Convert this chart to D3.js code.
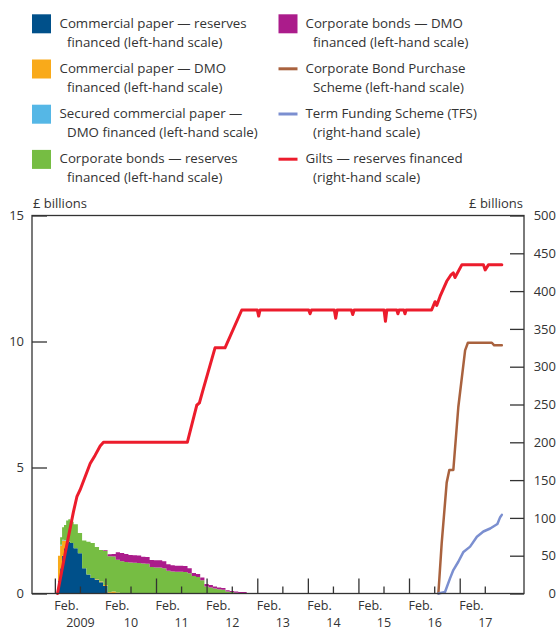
<!DOCTYPE html>
<html><head><meta charset="utf-8">
<script src="https://cdn.jsdelivr.net/npm/d3@7"></script>
<style>
html,body{margin:0;padding:0;background:#fff;}
svg{display:block;}
text{font-family:"Open Sans",sans-serif;fill:#333;}
</style></head><body>
<svg id="chart" width="557" height="631"></svg>
<script>
// ---------- DATA ----------
const stackDates = ["2009-01-15","2009-02-01","2009-02-15","2009-03-01","2009-03-15","2009-04-01","2009-04-15","2009-05-01","2009-06-01","2009-07-01","2009-08-01","2009-09-01","2009-10-01","2009-11-01","2009-12-01",
"2010-01-01","2010-02-01","2010-03-01","2010-04-01","2010-05-01","2010-06-01","2010-07-01","2010-08-01","2010-09-01","2010-10-01","2010-11-01","2010-12-01",
"2011-01-01","2011-02-01","2011-03-01","2011-04-01","2011-05-01","2011-06-01","2011-07-01","2011-08-01","2011-09-01","2011-10-01","2011-11-01","2011-12-01",
"2012-01-01","2012-02-01","2012-03-01","2012-04-01","2012-05-01","2012-06-01","2012-07-01","2012-08-01","2012-09-01","2012-10-01","2012-11-01"];
const cpReserves = [0,0.5,1.0,1.5,1.8,2.0,2.05,2.0,1.8,1.6,1.0,0.75,0.62,0.55,0.45,
0.3,0.03,0,0,0,0,0,0,0,0,0,0,
0,0,0,0,0,0,0,0,0,0,0,0,
0,0,0,0,0,0,0,0,0,0,0];
const cpDMO = [0,1.0,0.9,0.6,0.3,0.1,0,0,0,0,0,0,0,0.02,0.03,
0.04,0.03,0.08,0.04,0,0,0,0,0,0,0,0,
0,0,0,0,0,0,0,0,0,0,0,0,
0,0,0,0,0,0,0,0,0,0,0];
const securedCPDMO = [0,0,0.03,0.03,0.02,0,0,0,0,0,0,0,0,0,0,
0,0,0,0,0,0,0,0,0,0,0,0,
0,0,0,0,0,0,0,0,0,0,0,0,
0,0,0,0,0,0,0,0,0,0,0];
const cbReserves = [0,0,0.3,0.5,0.6,0.8,0.9,0.85,0.95,0.8,1.1,1.3,1.38,1.28,1.25,
1.35,1.42,1.39,1.3,1.28,1.25,1.23,1.22,1.21,1.19,1.18,1.05,
1.03,1.03,1.0,0.9,0.87,0.86,0.86,0.85,0.8,0.69,0.65,0.53,
0.28,0.24,0.2,0.17,0.15,0.08,0.06,0.03,0.02,0.01,0];
const cbDMO = [0,0,0,0,0,0,0,0,0,0,0,0,0,0,0,
0.03,0.08,0.1,0.3,0.33,0.32,0.3,0.3,0.3,0.27,0.27,0.28,
0.29,0.29,0.28,0.26,0.25,0.24,0.24,0.24,0.2,0.12,0.12,0.1,
0.1,0.1,0.08,0.07,0.07,0.05,0.04,0.05,0.04,0.05,0];

const giltDates = ["2009-01-20","2009-03-16","2009-05-15","2009-06-09","2009-07-02","2009-09-13","2009-10-19","2009-11-24","2009-12-18","2011-08-15","2011-10-22","2011-11-10","2011-12-09","2012-03-02","2012-05-13","2012-09-11",
"2013-01-01","2013-01-11","2013-01-21","2014-01-07","2014-01-17","2014-01-27","2014-07-11","2014-07-21","2014-07-31","2014-11-11","2014-11-21","2014-12-01",
"2015-07-05","2015-07-15","2015-07-25","2015-10-05","2015-10-13","2015-10-21","2015-11-25","2015-12-03","2015-12-11",
"2016-06-12","2016-07-07","2016-07-19","2016-08-12","2016-09-29","2016-10-28","2016-11-16","2016-11-28","2017-01-17","2017-06-21","2017-07-04","2017-07-28","2017-11-01"];
const giltValues = [0,53,108,128,137,172,183,195,200,200,249,252,271,325,325,375,
375,367,375,375,370,375,375,364,375,375,369,375,
375,360,375,375,370,375,375,370,375,
375,386,381,393,413,421,424,418,435,435,428,435,435];

const cbpsDates = ["2016-07-31","2016-08-24","2016-09-29","2016-10-18","2016-11-16","2016-12-22","2017-02-09","2017-03-01","2017-08-21","2017-09-07","2017-11-01"];
const cbpsValues = [0,2.0,4.4,4.9,4.9,7.4,9.65,9.95,9.95,9.85,9.85];

const tfsDates = ["2016-07-31","2016-09-17","2016-10-23","2016-11-16","2016-12-22","2017-01-28","2017-03-17","2017-05-05","2017-06-21","2017-08-09","2017-09-30","2017-10-20","2017-11-01"];
const tfsValues = [0,2,20,31,42,55,62,75,82,86,92,101,104];

const leftTicks = [0,5,10,15];
const rightTicks = [0,50,100,150,200,250,300,350,400,450,500];
const yearStarts = ["2009-01-01","2010-01-01","2011-01-01","2012-01-01","2013-01-01","2014-01-01","2015-01-01","2016-01-01","2017-01-01"];
const midYears = ["2009-07-01","2010-07-01","2011-07-01","2012-07-01","2013-07-01","2014-07-01","2015-07-01","2016-07-01","2017-07-01"];
const monthLabel = "Feb.";
const yearLabels = ["2009","10","11","12","13","14","15","16","17"];
const unitLabel = "£ billions";

const stackKeys = ["cpReserves","cpDMO","securedCPDMO","cbReserves","cbDMO"];
const legendLines1 = ["Commercial paper — reserves","Commercial paper — DMO","Secured commercial paper —","Corporate bonds — reserves","Corporate bonds — DMO","Corporate Bond Purchase","Term Funding Scheme (TFS)","Gilts — reserves financed"];
const legendLines2 = ["financed (left-hand scale)","financed (left-hand scale)","DMO financed (left-hand scale)","financed (left-hand scale)","financed (left-hand scale)","Scheme (left-hand scale)","(right-hand scale)","(right-hand scale)"];
const legendColors = ["#00508a","#f9aa1a","#55b7e6","#76bd43","#ab1c8b","#a9623e","#7b8fd0","#ec1c2c"];
const legendKinds = ["box","box","box","box","box","line","line","line"];

// ---------- CHART ----------
const parse = d3.utcParse("%Y-%m-%d");
const svg = d3.select("#chart");
const L = 32, R = 524, T = 215.5, B = 593.5;

const x = d3.scaleUtc().domain([Date.UTC(2008,6,20), Date.UTC(2018,3,10)]).range([L, R]);
const yL = d3.scaleLinear().domain([0,15]).range([B, T]);
const yR = d3.scaleLinear().domain([0,500]).range([B, T]);

const series = {cpReserves, cpDMO, securedCPDMO, cbReserves, cbDMO};
const table = stackDates.map((d,i) => {
  const row = {date: parse(d)};
  stackKeys.forEach(k => row[k] = series[k][i]);
  return row;
});
const stacked = d3.stack().keys(stackKeys)(table);
const area = d3.area().curve(d3.curveStep)
  .x(d => x(d.data.date)).y0(d => yL(d[0])).y1(d => yL(d[1]));
svg.append("g").selectAll("path").data(stacked).join("path")
  .attr("d", area).attr("fill", (d,i) => legendColors[i]);

// lines
function drawLine(dates, values, scale, color, w) {
  const pts = dates.map((d,i) => ({date: parse(d), v: values[i]}));
  svg.append("path").datum(pts)
    .attr("fill","none").attr("stroke",color).attr("stroke-width",w)
    .attr("stroke-linejoin","round").attr("stroke-linecap","round")
    .attr("d", d3.line().x(d => x(d.date)).y(d => scale(d.v)));
}
drawLine(giltDates, giltValues, yR, legendColors[7], 3);
drawLine(cbpsDates, cbpsValues, yL, legendColors[5], 2.5);
drawLine(tfsDates, tfsValues, yR, legendColors[6], 2.5);

// frame
svg.append("rect").attr("x",L).attr("y",T).attr("width",R-L).attr("height",B-T)
  .attr("fill","none").attr("stroke","#333").attr("stroke-width",1.3);

function styleAxis(g, size){
  g.selectAll(".domain").remove();
  g.selectAll(".tick line").attr("stroke","#333").attr("stroke-width",1.3);
  g.selectAll("text").attr("font-family","'Open Sans',sans-serif").attr("font-size",size).attr("fill","#333");
}

// left axis
const gl = svg.append("g").attr("transform",`translate(${L},0)`)
  .call(d3.axisLeft(yL).tickValues(leftTicks).tickSizeInner(-15).tickSizeOuter(0).tickPadding(8));
styleAxis(gl, 13);
// right axis
const gr = svg.append("g").attr("transform",`translate(${R},0)`)
  .call(d3.axisRight(yR).tickValues(rightTicks).tickSizeInner(-14).tickSizeOuter(0).tickPadding(6));
styleAxis(gr, 13);
gr.selectAll("text").attr("text-anchor","end").attr("x",32);

// bottom axes
const gx1 = svg.append("g").attr("transform",`translate(0,${B})`)
  .call(d3.axisBottom(x).tickValues(yearStarts.map(parse)).tickSizeInner(-15).tickSizeOuter(0).tickPadding(7.8).tickFormat(() => monthLabel));
styleAxis(gx1, 12.5);
gx1.selectAll("text").attr("text-anchor","start").attr("dx",-1);
const gx2 = svg.append("g").attr("transform",`translate(0,${B})`)
  .call(d3.axisBottom(x).tickValues(midYears.map(parse)).tickSizeInner(-7).tickSizeOuter(0).tickPadding(24.9).tickFormat((d,i) => yearLabels[i]));
styleAxis(gx2, 12.5);

// unit labels
svg.append("text").attr("x",33).attr("y",207.5).attr("font-size",13).text(unitLabel);
svg.append("text").attr("x",523).attr("y",207.5).attr("font-size",13).attr("text-anchor","end").text(unitLabel);

// legend
const lg = svg.append("g");
legendLines1.forEach((t,i) => {
  const col = i < 4 ? 0 : 1;
  const row = i % 4;
  const sx = col === 0 ? 32 : 278.5;
  const tx = col === 0 ? 59.5 : 305.5;
  const top = 14.3 + row * 45.2;
  if (legendKinds[i] === "box") {
    lg.append("rect").attr("x",sx).attr("y",top).attr("width",19).attr("height",19).attr("fill",legendColors[i]);
  } else {
    lg.append("line").attr("x1",sx).attr("x2",sx+19).attr("y1",top+9.3).attr("y2",top+9.3)
      .attr("stroke",legendColors[i]).attr("stroke-width",3);
  }
  lg.append("text").attr("x",tx).attr("y",top+13.3).attr("font-size",13.3).text(t);
  lg.append("text").attr("x",tx+7.5).attr("y",top+32.3).attr("font-size",13.3).text(legendLines2[i]);
});
</script>
</body></html>
